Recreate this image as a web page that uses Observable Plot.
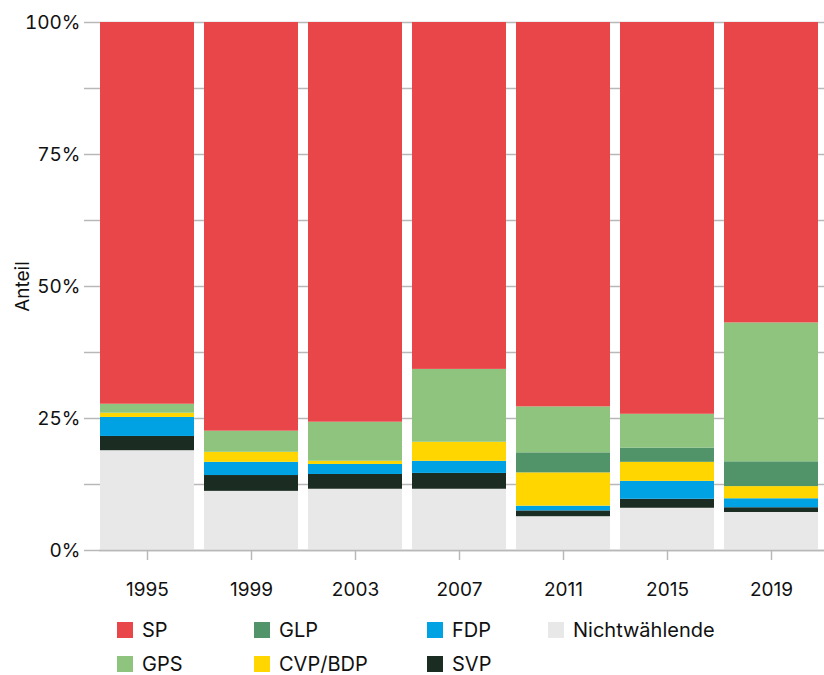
<!DOCTYPE html>
<html>
<head>
<meta charset="utf-8">
<script src="https://cdn.jsdelivr.net/npm/d3@7"></script>
<script src="https://cdn.jsdelivr.net/npm/@observablehq/plot@0.6"></script>
<style>
  body { margin: 0; background: #fff; font-family: Inter, "Noto Sans", sans-serif; }
  #wrap { position: relative; width: 824px; height: 675px; overflow: hidden; }
  #chart svg { display: block; }
  .legend { position: absolute; left: 117px; top: 622px; display: grid;
    grid-template-columns: 137px 173px 121px auto; grid-template-rows: 16px 16px;
    grid-auto-flow: column; row-gap: 18px; font-size: 20px; color: #111; }
  .item { display: flex; align-items: center; white-space: nowrap; line-height: 16px; }
  .sw { width: 16px; height: 16px; margin-right: 9px; flex: none; }
</style>
</head>
<body>
<div id="wrap">
  <div id="chart"></div>
  <div class="legend" id="legend"></div>
</div>
<script>
const years = ["1995", "1999", "2003", "2007", "2011", "2015", "2019"];
// stacked bottom -> top
const stackOrder = ["Nichtwählende", "SVP", "FDP", "CVP/BDP", "GLP", "GPS", "SP"];
const legendOrder = ["SP", "GPS", "GLP", "CVP/BDP", "FDP", "SVP", "Nichtwählende"];
const colors = ["#e9464a", "#8fc47e", "#52946a", "#ffd600", "#00a2e4", "#1b2d23", "#e8e8e8"];

const nichtwaehlende = [18.9, 11.2, 11.6, 11.6, 6.4, 8.0, 7.2];
const svp = [2.7, 3.0, 2.8, 3.0, 1.1, 1.7, 0.9];
const fdp = [3.6, 2.5, 1.9, 2.3, 0.9, 3.4, 1.7];
const cvpbdp = [0.8, 1.9, 0.6, 3.6, 6.3, 3.6, 2.3];
const glp = [0, 0, 0, 0, 3.8, 2.7, 4.7];
const gps = [1.7, 4.0, 7.4, 13.8, 8.7, 6.4, 26.3];
const sp = [72.3, 77.4, 75.7, 65.7, 72.8, 74.2, 56.9];

const yTicks = [0, 12.5, 25, 37.5, 50, 62.5, 75, 87.5, 100];

const series = {
  "Nichtwählende": nichtwaehlende, "SVP": svp, "FDP": fdp, "CVP/BDP": cvpbdp,
  "GLP": glp, "GPS": gps, "SP": sp
};
const data = [];
for (const party of stackOrder) {
  years.forEach((year, i) => data.push({year, party, value: series[party][i]}));
}

const grey = "#b8b8b8";
const chart = Plot.plot({
  width: 824,
  height: 605,
  marginLeft: 99,
  marginRight: 0,
  marginTop: 22,
  marginBottom: 55,
  style: {fontFamily: "Inter, 'Noto Sans', sans-serif", fontSize: "19px", color: "#111", background: "white", overflow: "visible"},
  x: {domain: years, range: [99, 818], paddingInner: 0.1, paddingOuter: 0, label: null},
  y: {domain: [0, 100]},
  color: {domain: legendOrder, range: colors},
  marks: [
    Plot.gridY(yTicks, {stroke: grey, strokeOpacity: 1, strokeWidth: 1.5}),
    Plot.axisY({ticks: yTicks, tickSize: 15, tickPadding: 4, stroke: grey, strokeWidth: 1.5,
      tickFormat: d => (d % 25 === 0 ? `${d}%` : ""), fontSize: 19,
      label: "Anteil", labelAnchor: "center", labelOffset: 84, labelArrow: false}),
    Plot.barY(data, {x: "year", y: "value", fill: "party", order: stackOrder}),
    Plot.ruleY([0], {stroke: grey, strokeWidth: 1.5}),
    Plot.axisX({tickSize: 10, tickPadding: 22, stroke: grey, strokeWidth: 1.5, label: null, fontSize: 19})
  ]
});
document.getElementById("chart").appendChild(chart);

const legend = document.getElementById("legend");
legendOrder.forEach((p, i) => {
  const item = document.createElement("div");
  item.className = "item";
  const sw = document.createElement("span");
  sw.className = "sw";
  sw.style.background = colors[i];
  const label = document.createElement("span");
  label.textContent = p;
  item.appendChild(sw);
  item.appendChild(label);
  legend.appendChild(item);
});
</script>
</body>
</html>
